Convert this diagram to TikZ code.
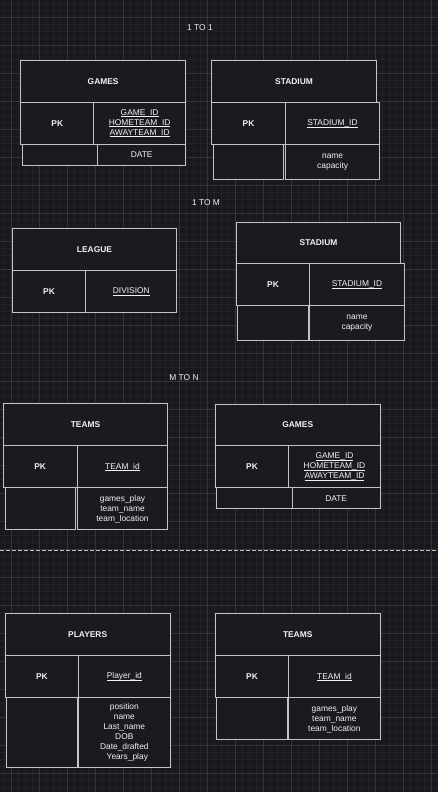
\documentclass[tikz,border=0pt]{standalone}
\usepackage{fontspec}
\setmainfont{Liberation Sans}
\definecolor{canvas}{HTML}{1A181E}
\definecolor{gridminor}{HTML}{232127}
\definecolor{gridmajor}{HTML}{37353B}
\definecolor{boxfill}{HTML}{1C1A1F}
\definecolor{edge}{HTML}{C4C4C4}
\definecolor{ink}{HTML}{F2F2F2}
% tight underline sitting just below the baseline
\newlength\keyulwd
\newcommand\keyul[1]{\settowidth\keyulwd{#1}\rlap{\rule[-1.6pt]{\keyulwd}{0.6pt}}#1}
\tikzset{
  cell/.style={draw=edge, fill=boxfill, line width=1pt, inner sep=0pt,
    anchor=north west, align=center, text=ink,
    font=\fontsize{8.4}{10}\selectfont},
  headcell/.style={cell, font=\fontsize{8.4}{10}\selectfont\bfseries},
  caption/.style={text=ink, inner sep=0pt, font=\fontsize{8.4}{10}\selectfont}
}
\begin{document}
\begin{tikzpicture}[x=1pt, y=-1pt]
\useasboundingbox (0,0) rectangle (438,792);
% canvas and grid
\fill[canvas] (0,0) rectangle (438,792);
\foreach \i in {0,...,62} \draw[gridminor, line width=0.5pt] ({4.5+7*\i},0) -- ({4.5+7*\i},792);
\foreach \i in {0,...,113} \draw[gridminor, line width=0.5pt] (0,{3.3+7*\i}) -- (438,{3.3+7*\i});
\foreach \i in {0,...,15} \draw[gridmajor, line width=0.8pt] ({11.5+28*\i},0) -- ({11.5+28*\i},792);
\foreach \i in {0,...,27} \draw[gridmajor, line width=0.8pt] (0,{17.3+28*\i}) -- (438,{17.3+28*\i});

% ---- 1 TO 1 ----
\node[caption] (oneone) at (200,28) {1 TO 1};
% GAMES
\node[cell, minimum width=75.3pt, minimum height=21pt] (gaBlank) at (22,144) {};
\node[cell, minimum width=87.7pt, minimum height=21pt] (gaAttr) at (97.3,144) {DATE};
\node[headcell, minimum width=164.7pt, minimum height=41.4pt] (gaHead) at (20.3,60.3) {GAMES};
\node[headcell, minimum width=73pt, minimum height=42.3pt] (gaPK) at (20.3,101.7) {PK};
\node[cell, minimum width=91.7pt, minimum height=42.3pt] (gaKey) at (93.3,101.7)
  {\keyul{GAME\_ID}\\\keyul{HOMETEAM\_ID}\\\keyul{AWAYTEAM\_ID}};
% STADIUM
\node[cell, minimum width=70pt, minimum height=35.3pt] (saBlank) at (212.7,144) {};
\node[cell, minimum width=94.3pt, minimum height=35.3pt] (saAttr) at (285,144) {name\\capacity};
\node[headcell, minimum width=164.4pt, minimum height=41.7pt] (saHead) at (211.3,60.3) {STADIUM};
\node[headcell, minimum width=73.4pt, minimum height=42pt] (saPK) at (211.3,102) {PK};
\node[cell, minimum width=94.6pt, minimum height=42pt] (saKey) at (284.7,102) {\keyul{STADIUM\_ID}};

% ---- 1 TO M ----
\node[caption] (onem) at (206,203) {1 TO M};
% LEAGUE
\node[headcell, minimum width=164.6pt, minimum height=42pt] (lgHead) at (11.7,228.3) {LEAGUE};
\node[headcell, minimum width=73.6pt, minimum height=42pt] (lgPK) at (11.7,270.3) {PK};
\node[cell, minimum width=91pt, minimum height=42pt] (lgKey) at (85.3,270.3) {\keyul{DIVISION}};
% STADIUM
\node[cell, minimum width=70.4pt, minimum height=35pt] (sbBlank) at (237.3,305.3) {};
\node[cell, minimum width=94.4pt, minimum height=35pt] (sbAttr) at (309.3,305.3) {name\\capacity};
\node[headcell, minimum width=164.6pt, minimum height=41.3pt] (sbHead) at (235.7,221.7) {STADIUM};
\node[headcell, minimum width=73.6pt, minimum height=42.3pt] (sbPK) at (235.7,263) {PK};
\node[cell, minimum width=94.4pt, minimum height=42.3pt] (sbKey) at (309.3,263) {\keyul{STADIUM\_ID}};

% ---- M TO N ----
\node[caption] (mn) at (184,378) {M TO N};
% TEAMS
\node[cell, minimum width=69.7pt, minimum height=42pt] (taBlank) at (5,487.3) {};
\node[cell, minimum width=90.6pt, minimum height=42pt] (taAttr) at (76.7,487.3)
  {games\_play\\team\_name\\team\_location};
\node[headcell, minimum width=164.6pt, minimum height=42pt] (taHead) at (2.7,403.3) {TEAMS};
\node[headcell, minimum width=74pt, minimum height=42pt] (taPK) at (2.7,445.3) {PK};
\node[cell, minimum width=90.6pt, minimum height=42pt] (taKey) at (76.7,445.3) {\keyul{TEAM\_id}};
% GAMES
\node[cell, minimum width=75.4pt, minimum height=21.3pt] (gbBlank) at (216.3,487) {};
\node[cell, minimum width=88pt, minimum height=21.3pt] (gbAttr) at (291.7,487) {DATE};
\node[headcell, minimum width=165pt, minimum height=41.6pt] (gbHead) at (214.7,403.7) {GAMES};
\node[headcell, minimum width=73.6pt, minimum height=41.7pt] (gbPK) at (214.7,445.3) {PK};
\node[cell, minimum width=91.4pt, minimum height=41.7pt] (gbKey) at (288.3,445.3)
  {\keyul{GAME\_ID}\\\keyul{HOMETEAM\_ID}\\\keyul{AWAYTEAM\_ID}};

% separator
\coordinate (sepL) at (0,550.3);
\coordinate (sepR) at (438,550.3);
\draw[edge, line width=1pt, dash pattern=on 4pt off 2pt] (sepL) -- (sepR);

% PLAYERS
\node[cell, minimum width=70.4pt, minimum height=70.3pt] (plBlank) at (6.3,697) {};
\node[cell, minimum width=91.7pt, minimum height=70.3pt] (plAttr) at (78,697)
  {position\\name\\Last\_name\\DOB\\Date\_drafted\\\hspace*{6pt}Years\_play};
\node[headcell, minimum width=165pt, minimum height=42pt] (plHead) at (4.7,613.3) {PLAYERS};
\node[headcell, minimum width=73.3pt, minimum height=41.7pt] (plPK) at (4.7,655.3) {PK};
\node[cell, minimum width=91.7pt, minimum height=41.7pt] (plKey) at (78,655.3) {\keyul{Player\_id}};
% TEAMS
\node[cell, minimum width=70.4pt, minimum height=42pt] (tbBlank) at (216.3,697.3) {};
\node[cell, minimum width=91.7pt, minimum height=42pt] (tbAttr) at (288,697.3)
  {games\_play\\team\_name\\team\_location};
\node[headcell, minimum width=165pt, minimum height=42pt] (tbHead) at (214.7,613.3) {TEAMS};
\node[headcell, minimum width=73.6pt, minimum height=42pt] (tbPK) at (214.7,655.3) {PK};
\node[cell, minimum width=91.4pt, minimum height=42pt] (tbKey) at (288.3,655.3) {\keyul{TEAM\_id}};
\end{tikzpicture}
\end{document}
